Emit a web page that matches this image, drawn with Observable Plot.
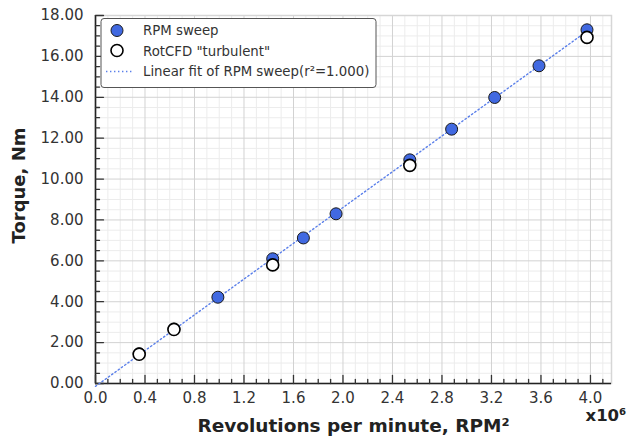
<!DOCTYPE html>
<html><head><meta charset="utf-8">
<script src="https://cdn.jsdelivr.net/npm/d3@7"></script>
<script src="https://cdn.jsdelivr.net/npm/@observablehq/plot@0.6"></script>
<style>
body{margin:0;background:#fff;}
#wrap{width:629px;height:440px;}
</style></head><body><div id="wrap"></div>
<script>
// RPM sweep (x in millions of RPM^2, y in Nm)
const sweepX = [0.353, 0.634, 0.989, 1.432, 1.680, 1.944, 2.540, 2.878, 3.226, 3.584, 3.972];
const sweepY = [1.46, 2.67, 4.22, 6.10, 7.12, 8.30, 10.94, 12.44, 13.99, 15.54, 17.30];
// RotCFD "turbulent"
const cfdX = [0.353, 0.634, 1.432, 2.540, 3.972];
const cfdY = [1.43, 2.64, 5.80, 10.67, 16.93];
// ticks
const xTicks = [0, 0.4, 0.8, 1.2, 1.6, 2.0, 2.4, 2.8, 3.2, 3.6, 4.0];
const yTicks = [0, 2, 4, 6, 8, 10, 12, 14, 16, 18];
const xMinor = d3.range(0, 42).map(i => i / 10).filter(v => Math.abs(v / 0.4 - Math.round(v / 0.4)) > 1e-6);
const yMinor = d3.range(0, 37).map(i => i / 2).filter(v => v % 2 !== 0);

const legendLabels = ["RPM sweep", "RotCFD \"turbulent\"", "Linear fit of RPM sweep(r\u00B2=1.000)"];
const xTitle = "Revolutions per minute, RPM\u00B2";
const yTitle = "Torque, Nm";
const xMult = "x10\u2076";

const sweep = sweepX.map((x, i) => ({x, y: sweepY[i]}));
const cfd = cfdX.map((x, i) => ({x, y: cfdY[i]}));

// least-squares fit of the RPM sweep
const mx = d3.mean(sweepX), my = d3.mean(sweepY);
const sxy = d3.sum(sweepX, (x, i) => (x - mx) * (sweepY[i] - my));
const sxx = d3.sum(sweepX, x => (x - mx) ** 2);
const slope = sxy / sxx, intercept = my - slope * mx;
const fit = [0, d3.max(sweepX)].map(x => ({x, y: intercept + slope * x}));

const tickShape = {draw(ctx, l) { ctx.moveTo(0, 0); ctx.lineTo(0, -l); }};
const ink = "#333";

const chart = Plot.plot({
  width: 629, height: 440,
  marginLeft: 95, marginRight: 18, marginTop: 15, marginBottom: 57,
  style: {fontFamily: "DejaVu Sans", fontSize: "15px", color: ink, background: "#fff"},
  x: {domain: [0, 4.17], axis: null},
  y: {domain: [0, 18], axis: null},
  marks: [
    Plot.gridX(xMinor, {stroke: "#ececec", strokeOpacity: 1}),
    Plot.gridY(yMinor, {stroke: "#ececec", strokeOpacity: 1}),
    Plot.gridX(xTicks, {stroke: "#d2d2d2", strokeOpacity: 1}),
    Plot.gridY(yTicks, {stroke: "#d2d2d2", strokeOpacity: 1}),
    Plot.frame({stroke: "#d6d6d6", strokeWidth: 1.5}),
    Plot.ruleX([0], {stroke: "#222", strokeWidth: 1.6}),
    Plot.ruleY([0], {stroke: "#222", strokeWidth: 1.6}),
    Plot.vector(xMinor, {x: d => d, frameAnchor: "bottom", length: 4, anchor: "start", shape: tickShape, stroke: ink, strokeWidth: 1.3}),
    Plot.vector(xTicks, {x: d => d, frameAnchor: "bottom", length: 8, anchor: "start", shape: tickShape, stroke: ink, strokeWidth: 1.3}),
    Plot.vector(yMinor, {y: d => d, frameAnchor: "left", length: 4, rotate: 90, anchor: "start", shape: tickShape, stroke: ink, strokeWidth: 1.3}),
    Plot.vector(yTicks, {y: d => d, frameAnchor: "left", length: 8, rotate: 90, anchor: "start", shape: tickShape, stroke: ink, strokeWidth: 1.3}),
    Plot.axisX(xTicks, {tickSize: 0, tickPadding: 9, tickFormat: d3.format(".1f"), fontSize: 15, label: null}),
    Plot.axisY(yTicks, {tickSize: 0, tickPadding: 12, tickFormat: d3.format(".2f"), fontSize: 15, label: null}),
    Plot.text([xTitle], {frameAnchor: "bottom", dy: 48, textAnchor: "middle", fontWeight: "bold", fontSize: 18.5, fill: "#222"}),
    Plot.text([yTitle], {frameAnchor: "left", dx: -76, dy: -14, textAnchor: "middle", rotate: -90, fontWeight: "bold", fontSize: 18, fill: "#222"}),
    Plot.text([xMult], {frameAnchor: "bottom-right", dx: -26, dy: 37, textAnchor: "start", fontWeight: "bold", fontSize: 16.5, fill: "#222"}),
    Plot.line(fit, {x: "x", y: "y", stroke: "#5a7fea", strokeWidth: 1.4, strokeDasharray: "1.4 2.6"}),
    Plot.dot(sweep, {x: "x", y: "y", r: 6, fill: "#4169e1", stroke: "#1a1a1a", strokeWidth: 1}),
    Plot.dot(cfd, {x: "x", y: "y", r: 6, fill: "#fff", stroke: "#000", strokeWidth: 1.6})
  ]
});

// legend inside plot
const svg = d3.select(chart);
const lg = svg.append("g").attr("font-family", "DejaVu Sans").attr("font-size", 13.3).attr("fill", ink).attr("text-anchor", "start");
lg.append("rect").attr("x", 101).attr("y", 18.5).attr("width", 275).attr("height", 69).attr("rx", 3)
  .attr("fill", "#fff").attr("stroke", "#555").attr("stroke-width", 1);
lg.append("circle").attr("cx", 117).attr("cy", 30.5).attr("r", 6).attr("fill", "#4169e1").attr("stroke", "#1a1a1a");
lg.append("circle").attr("cx", 117).attr("cy", 50.5).attr("r", 6).attr("fill", "#fff").attr("stroke", "#000").attr("stroke-width", 1.6);
lg.append("line").attr("x1", 106).attr("x2", 133).attr("y1", 71.5).attr("y2", 71.5)
  .attr("stroke", "#5a7fea").attr("stroke-width", 1.4).attr("stroke-dasharray", "1.4 2.6");
legendLabels.forEach((t, i) => {
  lg.append("text").attr("x", 143).attr("y", 30.5 + i * 20.5).attr("dy", "0.35em").attr("text-anchor", "start").text(t);
});

document.getElementById("wrap").appendChild(chart);
</script>
</body></html>
